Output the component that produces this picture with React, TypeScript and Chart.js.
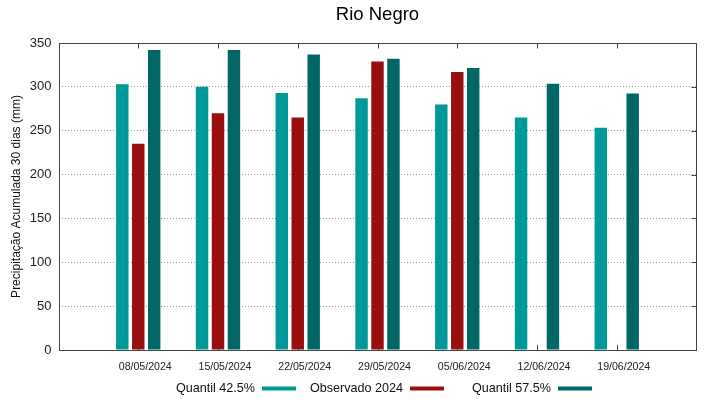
import React, { useEffect, useRef } from 'react';
import { Chart, registerables } from 'chart.js';

Chart.register(...registerables);

const categories = ['08/05/2024', '15/05/2024', '22/05/2024', '29/05/2024', '05/06/2024', '12/06/2024', '19/06/2024'];
const quantil425 = [303, 300, 293, 287, 280, 265, 253.5];
const observado2024: (number | null)[] = [235, 270, 265, 329, 317, null, null];
const quantil575 = [342, 342, 337, 332, 321.5, 303.5, 292.5];
const yTickValues = [0, 50, 100, 150, 200, 250, 300, 350];

const seriesLabels = ['Quantil 42.5%', 'Observado 2024', 'Quantil 57.5%'];
const seriesColors = ['#009999', '#990f0f', '#006666'];

const FONT = '"Liberation Sans", Arial, Helvetica, sans-serif';

const pad = <T,>(arr: T[]) => [null, ...arr, null];

const framePlugin = {
  id: 'gnuFrame',
  beforeDatasetsDraw(chart: any) {
    const ctx = chart.ctx;
    const { bottom } = chart.chartArea;
    const xs = chart.scales.x;
    ctx.save();
    ctx.strokeStyle = '#444';
    ctx.lineWidth = 1;
    for (let i = 1; i <= categories.length; i++) {
      const x = Math.round(xs.getPixelForValue(i)) + 0.5;
      ctx.beginPath();
      ctx.moveTo(x, bottom);
      ctx.lineTo(x, bottom - 5);
      ctx.stroke();
    }
    ctx.restore();
  },
  afterDraw(chart: any) {
    const ctx = chart.ctx;
    const { left, top, right, bottom } = chart.chartArea;
    const xs = chart.scales.x;
    const ys = chart.scales.y;
    ctx.save();
    ctx.strokeStyle = '#444';
    ctx.lineWidth = 1;
    const L = Math.round(left) + 0.5;
    const T = Math.round(top) + 0.5;
    const R = Math.round(right) - 0.5;
    const B = Math.round(bottom) + 0.5;
    ctx.strokeRect(L, T, R - L, B - T);
    // top ticks
    for (let i = 1; i <= categories.length; i++) {
      const x = Math.round(xs.getPixelForValue(i)) + 0.5;
      ctx.beginPath();
      ctx.moveTo(x, T);
      ctx.lineTo(x, T + 5);
      ctx.stroke();
    }
    // right ticks
    yTickValues.forEach((v) => {
      if (v === 0 || v === 350) return;
      const y = Math.round(ys.getPixelForValue(v)) + 0.5;
      ctx.beginPath();
      ctx.moveTo(R - 5, y);
      ctx.lineTo(R, y);
      ctx.stroke();
    });
    // legend
    const cx = (left + right) / 2;
    const ly = 388.5;
    ctx.font = `12.6px ${FONT}`;
    ctx.textBaseline = 'middle';
    ctx.textAlign = 'right';
    seriesLabels.forEach((lab, i) => {
      const textRight = cx + 25.5 + (i - 1) * 148;
      ctx.fillStyle = '#111';
      ctx.fillText(lab, textRight, ly);
      ctx.fillStyle = seriesColors[i];
      ctx.fillRect(textRight + 7, ly - 2, 34, 4);
    });
    ctx.restore();
  },
};

export default function App() {
  const ref = useRef<HTMLCanvasElement | null>(null);
  useEffect(() => {
    if (!ref.current) return;
    const labels = ['', ...categories, ''];
    const values = [quantil425, observado2024, quantil575];
    const chart = new Chart(ref.current, {
      type: 'bar',
      data: {
        labels,
        datasets: seriesLabels.map((lab, i) => ({
          label: lab,
          data: pad(values[i] as any[]),
          backgroundColor: seriesColors[i],
          borderWidth: 0,
          categoryPercentage: 0.6,
          barPercentage: 0.78,
        })),
      },
      options: {
        animation: false,
        responsive: false,
        maintainAspectRatio: false,
        layout: { padding: { left: 0, right: 22.5, top: 0, bottom: 0 } },
        plugins: {
          legend: { display: false },
          tooltip: { enabled: false },
          title: {
            display: true,
            text: 'Rio Negro',
            fullSize: false,
            color: '#000',
            font: { family: FONT, size: 18.5, weight: 'normal' },
            padding: { top: 3.7, bottom: 17.1 },
          },
        },
        scales: {
          x: {
            type: 'category',
            offset: false,
            grid: { display: false },
            border: { display: false },
            ticks: {
              autoSkip: false,
              maxRotation: 0,
              minRotation: 0,
              padding: 3,
              labelOffset: 7,
              color: '#222',
              font: { family: FONT, size: 10.6 },
            },
            afterFit: (s: any) => {
              s.height = 49;
            },
          },
          y: {
            min: 0,
            max: 350,
            grid: { color: '#999', lineWidth: 1, drawTicks: false },
            border: { display: false, dash: [1, 2] },
            ticks: {
              stepSize: 50,
              padding: 7,
              color: '#222',
              font: { family: FONT, size: 13 },
            },
            title: {
              display: true,
              text: 'Precipitação Acumulada 30 dias (mm)',
              color: '#111',
              font: { family: FONT, size: 12 },
              padding: { top: 9.5, bottom: 0 },
            },
            afterFit: (s: any) => {
              s.width = 58.5;
            },
          },
        },
      } as any,
      plugins: [framePlugin],
    });
    return () => chart.destroy();
  }, []);
  return (
    <canvas
      ref={ref}
      width={719}
      height={399}
      style={{ position: 'absolute', left: 0, top: 0, display: 'block', width: 719, height: 399 }}
    />
  );
}
